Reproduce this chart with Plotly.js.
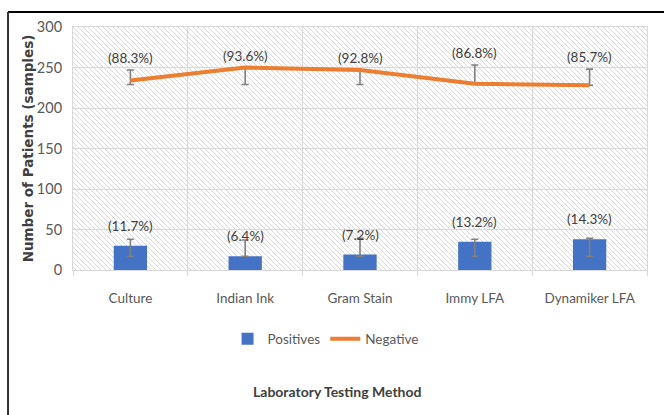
<!DOCTYPE html>
<html>
<head>
<meta charset="utf-8">
<script src="https://cdn.plot.ly/plotly-3.0.1.min.js"></script>
<style>html,body{margin:0;padding:0;background:#fff;}#chart{width:664px;height:415px;}</style>
</head>
<body>
<div id="chart"></div>
<script>
// ---- data ----
const categories = ['Culture', 'Indian Ink', 'Gram Stain', 'Immy LFA', 'Dynamiker LFA'];
const positives = [30, 17, 19, 35, 38];
const negatives = [234, 250, 247, 230, 228];
const posPct = ['(11.7%)', '(6.4%)', '(7.2%)', '(13.2%)', '(14.3%)'];
const negPct = ['(88.3%)', '(93.6%)', '(92.8%)', '(86.8%)', '(85.7%)'];
const posErrPlus = [8, 20, 20, 3, 1];
const posErrMinus = [13, 0, 2, 18, 21];
const negErrPlus = [13, 0, 0, 23, 20];
const negErrMinus = [5, 21, 18, 0, 0];
const yTicks = [0, 50, 100, 150, 200, 250, 300];

// ---- styling ----
const narrow = 'Lato, "Open Sans", sans-serif';
const grid = '#d9d9d9';
const errStyle = {color: '#808080', thickness: 1.6, width: 3.5};

const hatchSvg = '<svg xmlns="http://www.w3.org/2000/svg" width="574" height="243" viewBox="0 0 574 243" preserveAspectRatio="none">' +
  '<defs><pattern id="h" patternUnits="userSpaceOnUse" width="5" height="5">' +
  '<path d="M-1,-1 L6,6 M-1,4 L1,6 M4,-1 L6,1" stroke="#d8d8d8" stroke-width="1"/></pattern></defs>' +
  '<rect width="574" height="243" fill="url(#h)"/></svg>';
const hatchUri = 'data:image/svg+xml;charset=utf-8,' + encodeURIComponent(hatchSvg);

const traces = [
  {
    type: 'bar', name: 'Positives', x: categories, y: positives, width: 0.29,
    marker: {color: '#4472C4'},
    error_y: Object.assign({type: 'data', symmetric: false, array: posErrPlus, arrayminus: posErrMinus}, errStyle),
    hoverinfo: 'x+y'
  },
  {
    type: 'scatter', mode: 'lines', name: 'Negative', x: categories, y: negatives,
    line: {color: '#ED7D31', width: 4},
    error_y: Object.assign({type: 'data', symmetric: false, array: negErrPlus, arrayminus: negErrMinus}, errStyle),
    hoverinfo: 'x+y'
  }
];

const annotations = [];
categories.forEach((c, i) => {
  annotations.push({xref: 'x', yref: 'y', x: c, y: positives[i], yshift: 20, text: posPct[i],
    showarrow: false, yanchor: 'middle', font: {family: narrow, size: 13.5, color: '#404040'}});
  annotations.push({xref: 'x', yref: 'y', x: c, y: negatives[i] + negErrPlus[i], yshift: 12, text: negPct[i],
    showarrow: false, yanchor: 'middle', font: {family: narrow, size: 13.5, color: '#404040'}});
});
annotations.push({xref: 'paper', yref: 'paper', x: 0.46, y: -0.498, xanchor: 'center', yanchor: 'middle',
  showarrow: false, text: 'Laboratory Testing Method',
  font: {family: narrow, size: 14, color: '#404040', weight: 'bold'}});

const layout = {
  width: 664, height: 415,
  margin: {l: 73, r: 17, t: 27, b: 145},
  paper_bgcolor: '#ffffff', plot_bgcolor: '#ffffff',
  showlegend: true,
  legend: {orientation: 'h', x: 0.44, xanchor: 'center', y: -0.284, yanchor: 'middle',
    font: {family: narrow, size: 13.5, color: '#595959'}, traceorder: 'normal'},
  xaxis: {
    type: 'category', tickson: 'boundaries', showgrid: true, gridcolor: grid,
    ticks: 'outside', ticklen: 5, tickcolor: grid, showline: true, linecolor: grid, mirror: true,
    tickfont: {family: narrow, size: 13.5, color: '#595959'}, ticklabelstandoff: 16,
    fixedrange: true
  },
  yaxis: {
    range: [0, 300], tickvals: yTicks, showgrid: true, gridcolor: grid,
    zeroline: true, zerolinecolor: grid, showline: true, linecolor: grid, mirror: true, ticks: '',
    tickfont: {family: narrow, size: 14.5, color: '#595959'}, ticklabelstandoff: 7,
    title: {text: 'Number of Patients (samples)', standoff: 0,
      font: {family: 'DejaVu Sans', size: 13.5, color: '#404040', weight: 'bold'}},
    fixedrange: true
  },
  images: [{source: hatchUri, xref: 'paper', yref: 'paper', x: 0, y: 1, sizex: 1, sizey: 1,
    sizing: 'stretch', xanchor: 'left', yanchor: 'top', layer: 'below'}],
  shapes: [
    {type: 'line', xref: 'paper', yref: 'paper', x0: -0.1132, x1: 1.05, y0: 1.0617, y1: 1.0617,
      line: {color: '#000000', width: 2}},
    {type: 'line', xref: 'paper', yref: 'paper', x0: -0.1132, x1: -0.1132, y0: 1.0617, y1: -0.6,
      line: {color: '#333333', width: 2}}
  ],
  annotations: annotations
};

Plotly.newPlot('chart', traces, layout, {displayModeBar: false, staticPlot: true});
</script>
</body>
</html>
